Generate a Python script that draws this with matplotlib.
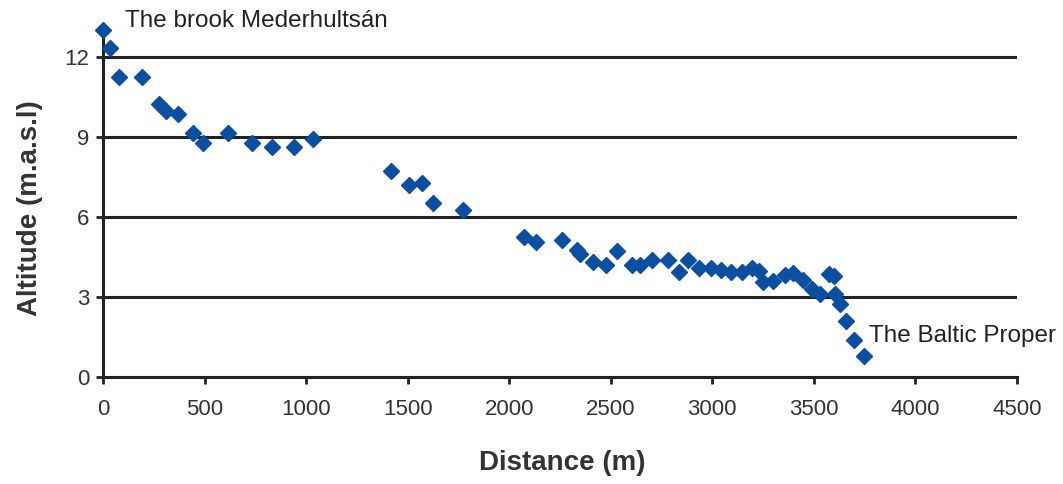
import matplotlib
matplotlib.use("Agg")
import matplotlib.pyplot as plt

plt.rcParams['font.family'] = ['Liberation Sans', 'DejaVu Sans']

distance = [0, 36, 79, 194, 276, 312, 370, 441, 493, 617, 732, 831, 942, 1036,
            1416, 1507, 1569, 1626, 1771, 2072, 2134, 2262, 2332, 2349, 2411, 2477,
            2532, 2603, 2644, 2701, 2783, 2836, 2882, 2936, 2992, 3043, 3090, 3145,
            3194, 3230, 3250, 3300, 3358, 3396, 3448, 3489, 3530, 3575, 3600, 3604,
            3629, 3658, 3699, 3747]
altitude = [13.03, 12.32, 11.25, 11.25, 10.22, 9.97, 9.86, 9.15, 8.78, 9.15, 8.78,
            8.61, 8.61, 8.91, 7.73, 7.19, 7.29, 6.53, 6.25, 5.25, 5.05, 5.15, 4.75,
            4.63, 4.31, 4.19, 4.73, 4.19, 4.21, 4.4, 4.4, 3.94, 4.4, 4.1, 4.1, 4.03,
            3.95, 3.95, 4.1, 3.97, 3.55, 3.6, 3.81, 3.9, 3.63, 3.31, 3.13, 3.85, 3.8,
            3.1, 2.75, 2.1, 1.38, 0.79]
x_ticks = [0, 500, 1000, 1500, 2000, 2500, 3000, 3500, 4000, 4500]
y_ticks = [0, 3, 6, 9, 12]

fig = plt.figure(figsize=(10.63, 4.84), dpi=100)
ax = fig.add_axes([103/1063, 107/484, 914/1063, 352/484])

ax.set_xlim(0, 4500)
ax.set_ylim(0, 13.2)
for yv in y_ticks[1:]:
    ax.axhline(yv, color='#222222', lw=2.2, zorder=1)

ax.plot(distance, altitude, linestyle='none', marker='D', markersize=8,
        color='#0B4EA2', markeredgecolor='#0B4EA2', zorder=3, clip_on=False)

for s in ['top', 'right']:
    ax.spines[s].set_visible(False)
for s in ['left', 'bottom']:
    ax.spines[s].set_linewidth(2.2)
    ax.spines[s].set_color('#222222')

ax.set_xticks(x_ticks)
ax.set_yticks(y_ticks)
ax.tick_params(direction='out', length=5, width=2, color='#222222',
               labelsize=16, labelcolor='#333333')
ax.tick_params(axis='x', pad=11)
ax.tick_params(axis='y', pad=5)

ax.set_xlabel('Distance (m)', fontsize=20, fontweight='bold', color='#333333')
ax.set_ylabel('Altitude (m.a.s.l)', fontsize=20, fontweight='bold', color='#333333')
ax.xaxis.set_label_coords(0.502, (377 - 463) / 352)
ax.xaxis.label.set_va('center')
ax.yaxis.set_label_coords((30 - 103) / 914, 0.48)
ax.yaxis.label.set_va('center')

ax.text(108, 13.35, 'The brook Mederhultsán', fontsize=17.5, color='#222222',
        va='center', ha='left', clip_on=False)
ax.text(3770, 1.55, 'The Baltic Proper', fontsize=17.5, color='#222222',
        va='center', ha='left', clip_on=False)

fig.savefig('out.png', dpi=100, facecolor='white')
